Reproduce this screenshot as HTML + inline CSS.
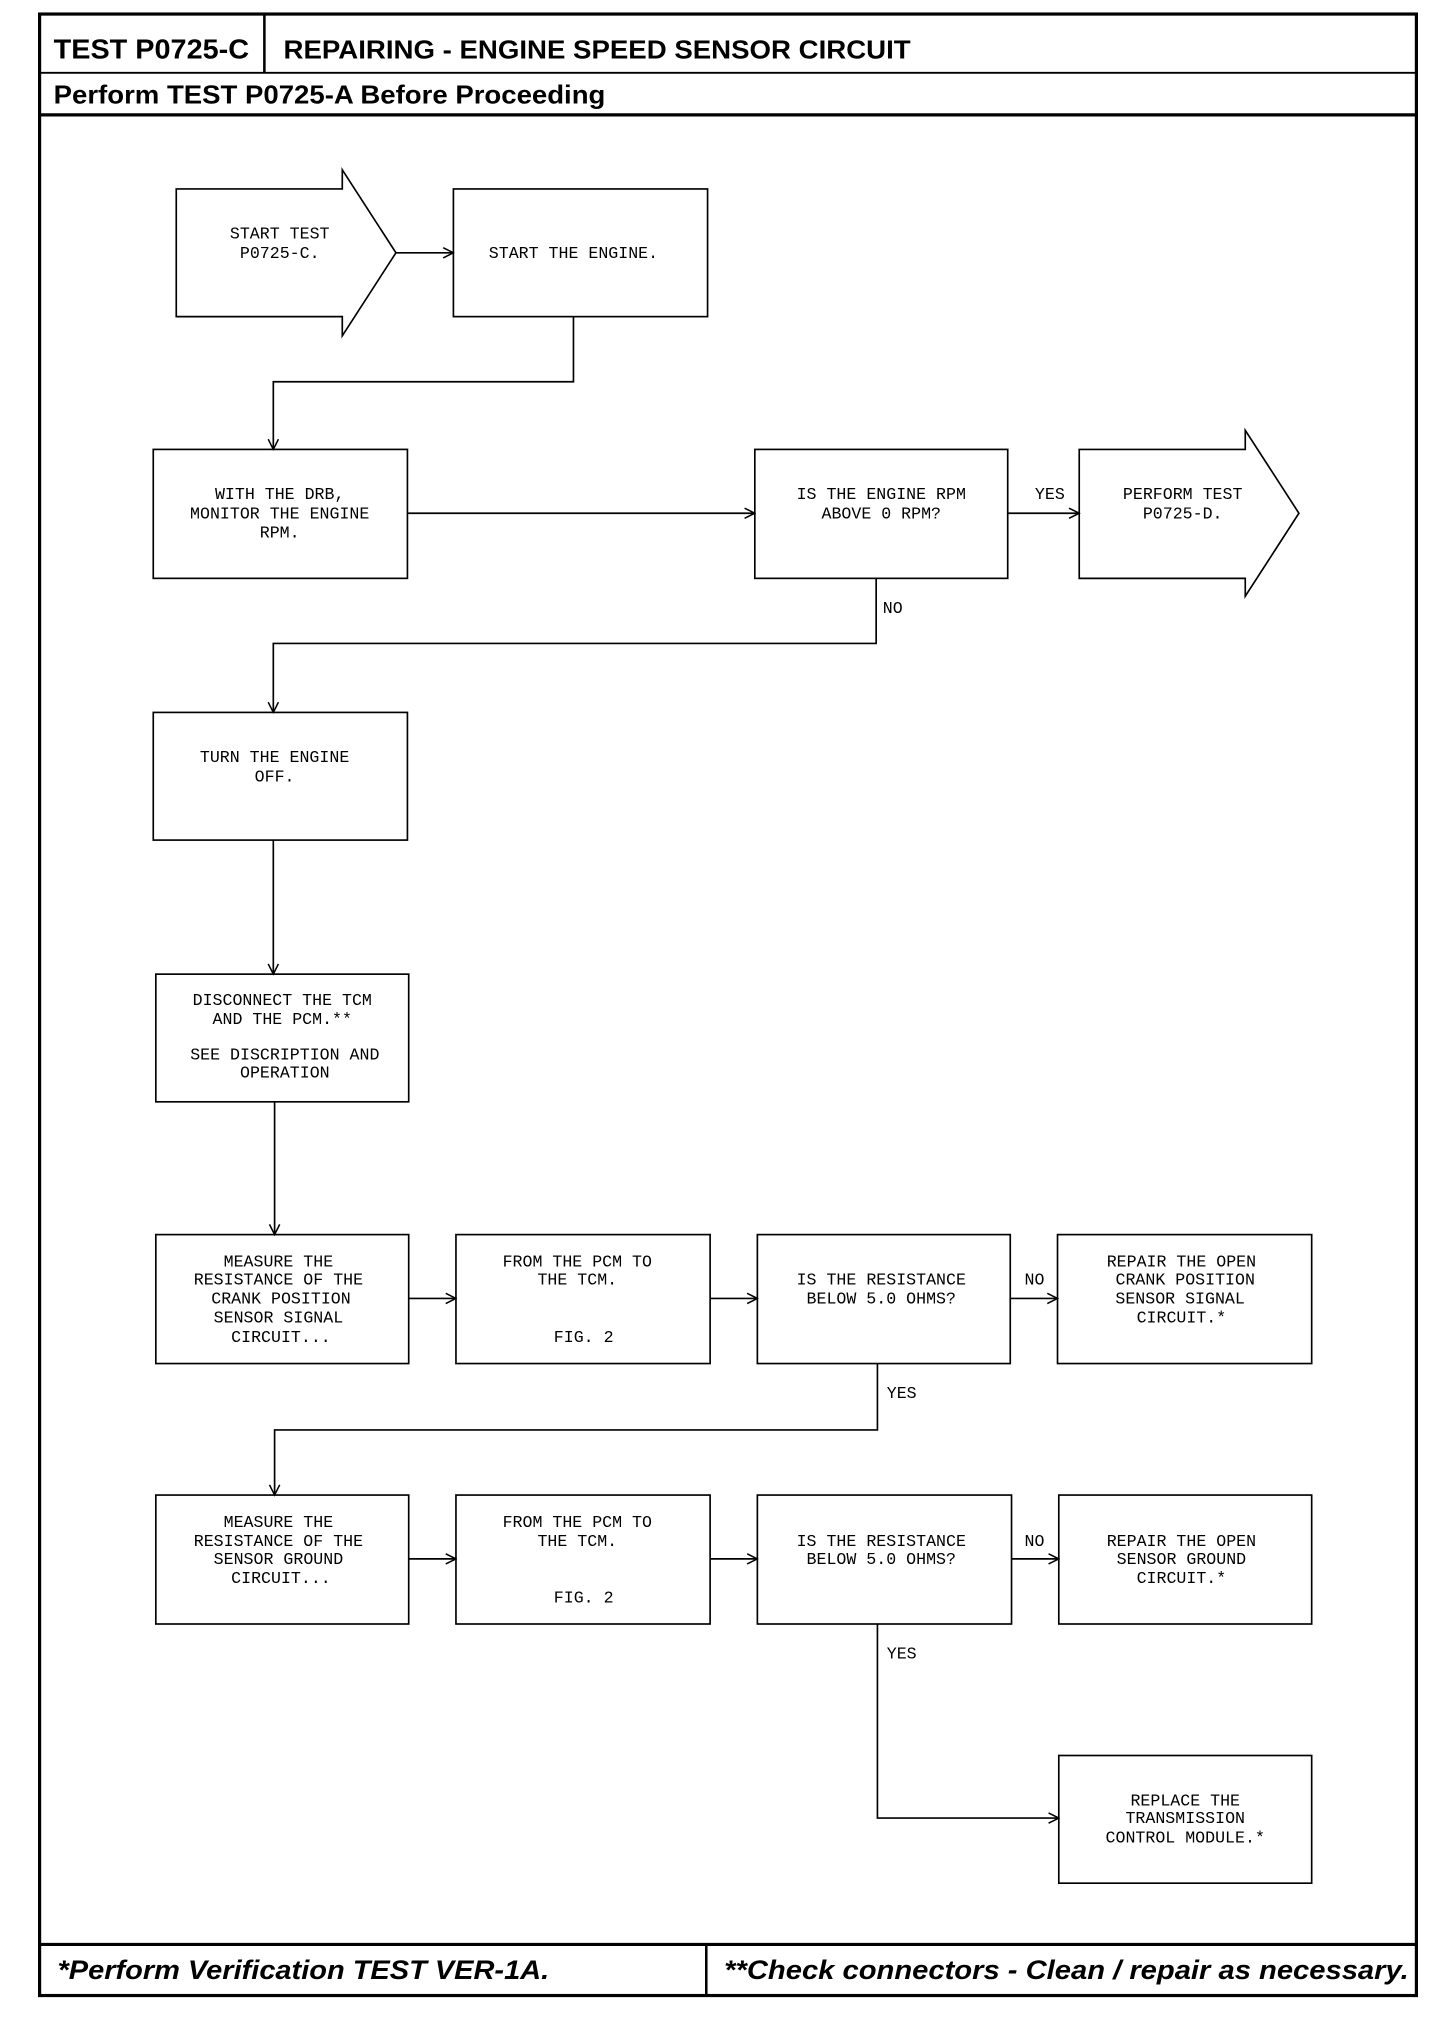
<!DOCTYPE html>
<html><head><meta charset="utf-8"><style>html,body{margin:0;padding:0;background:#fff}svg{display:block}</style></head>
<body>
<svg width="1456" height="2030" viewBox="0 0 1140 1590" preserveAspectRatio="none" xmlns="http://www.w3.org/2000/svg">
<defs>
<marker id="a" markerWidth="10" markerHeight="10" refX="9" refY="5" orient="auto" markerUnits="userSpaceOnUse">
<path d="M1,1 L9,5 L1,9" fill="none" stroke="#000" stroke-width="1.2"/>
</marker>
</defs>
<g fill="none" stroke="#000">
<rect x="31" y="11" width="1078" height="1552" stroke-width="2.5"/>
<line x1="31" y1="57" x2="1109" y2="57" stroke-width="1.5"/>
<line x1="31" y1="90" x2="1109" y2="90" stroke-width="2.5"/>
<line x1="207" y1="11" x2="207" y2="57" stroke-width="2"/>
<line x1="31" y1="1523" x2="1109" y2="1523" stroke-width="2.5"/>
<line x1="553" y1="1523" x2="553" y2="1563" stroke-width="2"/>
</g>
<g fill="#fff" stroke="#000" stroke-width="1.3">
<path d="M138,148 H268 V133 L310,198 L268,263 V248 H138 Z"/>
<rect x="355" y="148" width="199" height="100"/>
<rect x="120" y="352" width="199" height="101"/>
<rect x="591" y="352" width="198" height="101"/>
<path d="M845,352 H975 V337 L1017,402 L975,467 V453 H845 Z"/>
<rect x="120" y="558" width="199" height="100"/>
<rect x="122" y="763" width="198" height="100"/>
<rect x="122" y="967" width="198" height="101"/>
<rect x="357" y="967" width="199" height="101"/>
<rect x="593" y="967" width="198" height="101"/>
<rect x="828" y="967" width="199" height="101"/>
<rect x="122" y="1171" width="198" height="101"/>
<rect x="357" y="1171" width="199" height="101"/>
<rect x="593" y="1171" width="199" height="101"/>
<rect x="829" y="1171" width="198" height="101"/>
<rect x="829" y="1375" width="198" height="100"/>
</g>
<g fill="none" stroke="#000" stroke-width="1.3" marker-end="url(#a)">
<path d="M310,198 H355"/>
<path d="M449,248 V299 H214 V352"/>
<path d="M319,402 H591"/>
<path d="M789,402 H845"/>
<path d="M686,453 V504 H214 V558"/>
<path d="M214,658 V763"/>
<path d="M215,863 V967"/>
<path d="M320,1017 H357"/>
<path d="M556,1017 H593"/>
<path d="M791,1017 H828"/>
<path d="M687,1068 V1120 H215 V1171"/>
<path d="M320,1221 H357"/>
<path d="M556,1221 H593"/>
<path d="M792,1221 H829"/>
<path d="M687,1272 V1424 H829"/>
</g>
<g font-family="Liberation Mono, monospace" font-size="13" text-anchor="middle" fill="#000">
<text x="219" y="187">START TEST</text><text x="219" y="202">P0725-C.</text>
<text x="449" y="202">START THE ENGINE.</text>
<text x="219" y="391">WITH THE DRB,</text><text x="219" y="406">MONITOR THE ENGINE</text><text x="219" y="421">RPM.</text>
<text x="690" y="391">IS THE ENGINE RPM</text><text x="690" y="406">ABOVE 0 RPM?</text>
<text x="926" y="391">PERFORM TEST</text><text x="926" y="406">P0725-D.</text>
<text x="822" y="391">YES</text>
<text x="699" y="480">NO</text>
<text x="215" y="597">TURN THE ENGINE</text><text x="215" y="612">OFF.</text>
<text x="221" y="787">DISCONNECT THE TCM</text><text x="221" y="802">AND THE PCM.**</text>
<text x="223" y="830">SEE DISCRIPTION AND</text><text x="223" y="844">OPERATION</text>
<text x="218" y="992">MEASURE THE</text><text x="218" y="1006">RESISTANCE OF THE</text><text x="220" y="1021">CRANK POSITION</text><text x="218" y="1036">SENSOR SIGNAL</text><text x="220" y="1051">CIRCUIT...</text>
<text x="452" y="992">FROM THE PCM TO</text><text x="452" y="1006">THE TCM.</text><text x="457" y="1051">FIG. 2</text>
<text x="690" y="1006">IS THE RESISTANCE</text><text x="690" y="1021">BELOW 5.0 OHMS?</text>
<text x="810" y="1006">NO</text>
<text x="925" y="992">REPAIR THE OPEN</text><text x="928" y="1006">CRANK POSITION</text><text x="924" y="1021">SENSOR SIGNAL</text><text x="925" y="1036">CIRCUIT.*</text>
<text x="706" y="1095">YES</text>
<text x="218" y="1196">MEASURE THE</text><text x="218" y="1211">RESISTANCE OF THE</text><text x="218" y="1225">SENSOR GROUND</text><text x="220" y="1240">CIRCUIT...</text>
<text x="452" y="1196">FROM THE PCM TO</text><text x="452" y="1211">THE TCM.</text><text x="457" y="1255">FIG. 2</text>
<text x="690" y="1211">IS THE RESISTANCE</text><text x="690" y="1225">BELOW 5.0 OHMS?</text>
<text x="810" y="1211">NO</text>
<text x="925" y="1211">REPAIR THE OPEN</text><text x="925" y="1225">SENSOR GROUND</text><text x="925" y="1240">CIRCUIT.*</text>
<text x="706" y="1299">YES</text>
<text x="928" y="1414">REPLACE THE</text><text x="928" y="1428">TRANSMISSION</text><text x="928" y="1443">CONTROL MODULE.*</text>
</g>
<g font-family="Liberation Sans, sans-serif" font-weight="bold" fill="#000">
<text x="42" y="46" font-size="22" textLength="153" lengthAdjust="spacingAndGlyphs">TEST P0725-C</text>
<text x="222" y="46" font-size="20" textLength="491" lengthAdjust="spacingAndGlyphs">REPAIRING - ENGINE SPEED SENSOR CIRCUIT</text>
<text x="42" y="81" font-size="20" textLength="432" lengthAdjust="spacingAndGlyphs">Perform TEST P0725-A Before Proceeding</text>
<text x="45" y="1550" font-size="21" font-style="italic" textLength="385" lengthAdjust="spacingAndGlyphs">*Perform Verification TEST VER-1A.</text>
<text x="567" y="1550" font-size="21" font-style="italic" textLength="536" lengthAdjust="spacingAndGlyphs">**Check connectors - Clean / repair as necessary.</text>
</g>
</svg>
</body></html>
